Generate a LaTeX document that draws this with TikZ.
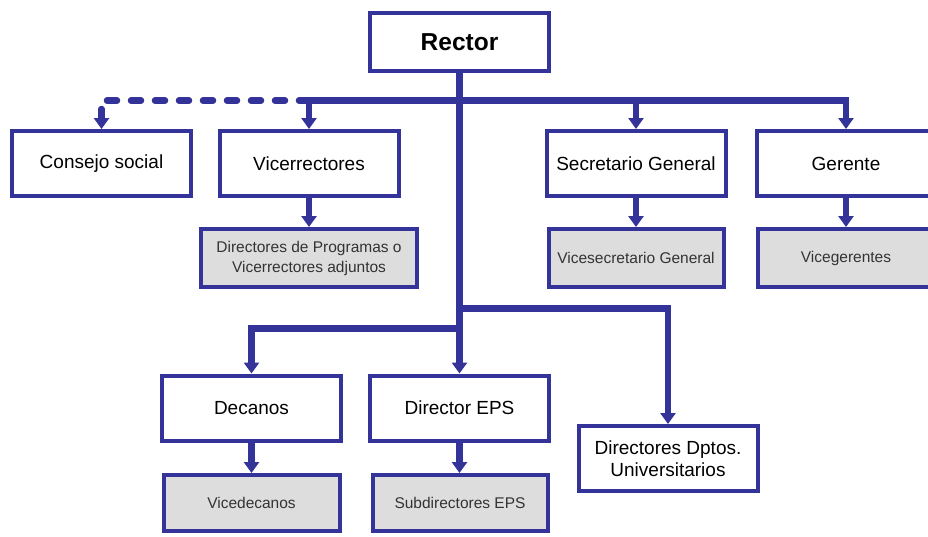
\documentclass[tikz,border=0pt]{standalone}
\usepackage{fontspec}
\setmainfont{Liberation Sans}
\usetikzlibrary{arrows.meta}
\definecolor{navy}{HTML}{333399}
\definecolor{subfill}{HTML}{DDDDDD}
\definecolor{subtext}{HTML}{333333}
\tikzset{
  mainbox/.style={draw=navy, line width=4pt, fill=white, minimum width=179pt, minimum height=65pt, align=center, inner sep=0pt, font=\fontsize{19}{22}\selectfont, text=black},
  subbox/.style={draw=navy, line width=4pt, fill=subfill, minimum width=176pt, minimum height=58pt, align=center, inner sep=0pt, font=\fontsize{15.5}{20}\selectfont, text=subtext},
  bar/.style={draw=navy, line width=6.5pt, line join=miter},
  arr/.style={bar, -{Triangle[width=15pt,length=11pt]}},
  dashbar/.style={draw=navy, line width=6.5pt, line cap=round, line join=round, dash pattern=on 10pt off 14pt, -{Triangle[width=15pt,length=11pt,line cap=butt]}},
}
\begin{document}
\begin{tikzpicture}[x=1pt,y=-1pt]
\useasboundingbox (0,0) rectangle (928,536);
\clip (0,0) rectangle (928,536);
% boxes
\node[mainbox, minimum height=58pt, font=\fontsize{24.5}{28}\bfseries] (rector) at (459.5,42) {Rector};
\node[mainbox] (cons) at (101.5,163.5) {Consejo social};
\node[mainbox] (vic) at (309,163.5) {Vicerrectores};
\node[mainbox] (sec) at (636,163.5) {Secretario General};
\node[mainbox] (ger) at (846,163.5) {Gerente};
\node[subbox, minimum width=216pt] (dp) at (309,258) {Directores de Programas o\\Vicerrectores adjuntos};
\node[subbox, minimum width=175pt] (vsec) at (636,258) {Vicesecretario General};
\node[subbox, minimum width=176pt] (vger) at (846,258) {Vicegerentes};
\node[mainbox] (dec) at (251.5,408) {Decanos};
\node[mainbox] (eps) at (459.5,408) {Director EPS};
\node[mainbox] (dptos) at (668,458.5) {Directores Dptos.\\Universitarios};
\node[subbox, minimum width=176pt, minimum height=56pt] (vdec) at (251.5,503) {Vicedecanos};
\node[subbox, minimum width=175pt, minimum height=56pt] (sdeps) at (460,503) {Subdirectores EPS};
% junctions
\coordinate (top) at (459.5,100.5);
\coordinate (mid) at (459.5,308.5);
\coordinate (low) at (459.5,328.5);
% trunk
\draw[bar, line width=7.5pt] (rector.south) -- (low);
% top bar
\draw[dashbar] (vic.north |- top) -| (cons.north);
\draw[arr] (top) -| (vic.north);
\draw[arr] (top) -| (sec.north);
\draw[arr] (top) -| (ger.north);
% lower branches
\draw[arr] (mid) -| (dptos.north);
\draw[arr] (low) -| (dec.north);
\draw[arr] (low) -- (eps.north);
% sub arrows
\draw[arr] (vic.south) -- (vic.south |- dp.north);
\draw[arr] (sec.south) -- (sec.south |- vsec.north);
\draw[arr] (ger.south) -- (ger.south |- vger.north);
\draw[arr] (dec.south) -- (dec.south |- vdec.north);
\draw[arr] (eps.south) -- (eps.south |- sdeps.north);
\end{tikzpicture}
\end{document}
